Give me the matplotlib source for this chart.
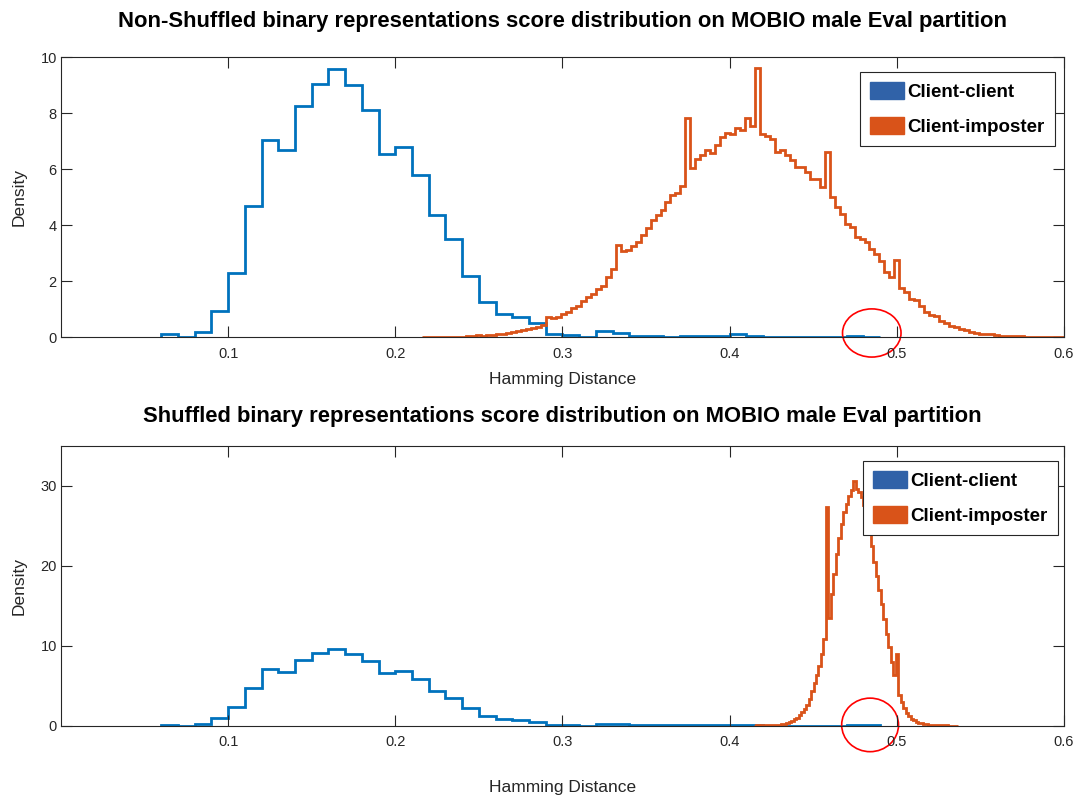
import matplotlib.pyplot as plt
import numpy as np
from matplotlib.patches import Ellipse, Patch

plt.rcParams['font.family'] = ['Liberation Sans', 'DejaVu Sans']

# client-client scores (same in both panels), bins of 0.01 from 0.06
cc_start = 0.06
cc_width = 0.01
cc_density = [0.11, 0.01, 0.21, 0.96, 2.31, 4.70, 7.06, 6.69, 8.26, 9.06,
              9.58, 9.02, 8.14, 6.56, 6.81, 5.80, 4.37, 3.51, 2.19, 1.25,
              0.83, 0.74, 0.52, 0.12, 0.08, 0.02, 0.23, 0.17, 0.05, 0.07,
              0.03, 0.05, 0.05, 0.06, 0.12, 0.06, 0.02, 0.02, 0.02, 0.02,
              0.02, 0.05, 0.03]

# client-imposter, non-shuffled, bins of 1/336
ci_start = 72.5 / 336
ci_width = 1 / 336
ci_density = [0.01, 0.01, 0.01, 0.01, 0.02, 0.02, 0.02, 0.03, 0.03, 0.04,
              0.05, 0.09, 0.07, 0.08, 0.10, 0.12, 0.14, 0.16, 0.19, 0.22,
              0.25, 0.29, 0.33, 0.37, 0.44, 0.72, 0.70, 0.74, 0.85, 0.92,
              1.04, 1.12, 1.30, 1.45, 1.55, 1.72, 1.82, 2.15, 2.43, 3.30,
              3.07, 3.13, 3.25, 3.42, 3.66, 3.90, 4.20, 4.38, 4.55, 4.85,
              5.09, 5.15, 5.41, 7.83, 6.04, 6.36, 6.50, 6.71, 6.57, 6.87,
              7.17, 7.30, 7.26, 7.47, 7.40, 7.82, 7.55, 9.61, 7.26, 7.19,
              7.10, 6.63, 6.69, 6.50, 6.33, 6.09, 6.09, 5.90, 5.66, 5.66,
              5.36, 6.64, 5.00, 4.66, 4.42, 4.06, 3.94, 3.58, 3.52, 3.40,
              3.16, 2.98, 2.74, 2.35, 2.17, 2.77, 1.76, 1.64, 1.37, 1.33,
              1.12, 0.92, 0.80, 0.76, 0.60, 0.50, 0.42, 0.36, 0.31, 0.28,
              0.20, 0.16, 0.14, 0.12, 0.11, 0.09, 0.07, 0.06, 0.05, 0.05,
              0.04, 0.03, 0.03, 0.03, 0.02, 0.02, 0.02, 0.01, 0.01, 0.01]

# client-imposter, shuffled, bins of 1/672
sh_start = 278.5 / 672
sh_width = 1 / 672
sh_density = [0.02, 0.03, 0.02, 0.03, 0.04, 0.05, 0.06, 0.07, 0.09, 0.11,
              0.15, 0.20, 0.26, 0.35, 0.48, 0.62, 0.80, 1.0, 1.35, 1.7,
              2.1, 2.6, 3.3, 4.3, 5.3, 6.3, 7.5, 9.0, 10.8, 27.4,
              13.5, 16.5, 19.0, 21.5, 23.5, 25.3, 26.8, 27.8, 28.7, 29.5,
              30.6, 29.6, 29.3, 28.6, 27.6, 26.3, 24.5, 22.5, 20.5, 18.7,
              17.0, 15.2, 13.3, 11.5, 9.8, 8.0, 6.3, 9.0, 3.8, 3.0,
              2.2, 1.6, 1.2, 0.9, 0.7, 0.5, 0.4, 0.3, 0.25, 0.2,
              0.15, 0.12, 0.1, 0.08, 0.06, 0.05, 0.04, 0.03, 0.02, 0.02,
              0.01, 0.01]

titles = ['Non-Shuffled binary representations score distribution on MOBIO male Eval partition',
          'Shuffled binary representations score distribution on MOBIO male Eval partition']
ylims = [10, 35]
yticks = [[0, 2, 4, 6, 8, 10], [0, 10, 20, 30]]
xticks = [0.1, 0.2, 0.3, 0.4, 0.5, 0.6]
# red circles (centre x, centre y, width, height) in data units
circles = [(0.485, 0.16, 0.035, 1.72), (0.484, 0.1, 0.034, 6.7)]

blue = '#0072BD'
orange = '#D95319'
axc = '#262626'

fig = plt.figure(figsize=(10.81, 8.01), dpi=100)
ax1 = fig.add_axes([0.0564, 0.5787, 0.9279, 0.3496])
ax2 = fig.add_axes([0.0564, 0.0940, 0.9279, 0.3492])

cc_edges = cc_start + cc_width * np.arange(len(cc_density) + 1)
ci_edges = ci_start + ci_width * np.arange(len(ci_density) + 1)
sh_edges = sh_start + sh_width * np.arange(len(sh_density) + 1)

title_pads = [22, 17]
leg_anchor = [(0.991, 0.948), (0.994, 0.946)]

for k, ax in enumerate([ax1, ax2]):
    ax.stairs(cc_density, cc_edges, color=blue, lw=2, baseline=0)
    if k == 0:
        ax.stairs(ci_density, ci_edges, color=orange, lw=2, baseline=0)
    else:
        ax.stairs(sh_density, sh_edges, color=orange, lw=2, baseline=0)
    ax.set_xlim(0, 0.6)
    ax.set_ylim(0, ylims[k])
    ax.set_xticks(xticks)
    ax.set_xticklabels(['0.1', '0.2', '0.3', '0.4', '0.5', '0.6'])
    ax.set_yticks(yticks[k])
    ax.tick_params(direction='in', length=8, width=0.8, top=True, right=True,
                   colors=axc, labelsize=10.5)
    ax.tick_params(axis='x', pad=7)
    ax.tick_params(axis='y', pad=3)
    for s in ax.spines.values():
        s.set_color(axc)
        s.set_linewidth(0.8)
    ax.set_ylabel('Density', fontsize=12.5, color=axc, labelpad=10)
    ax.set_title(titles[k], fontsize=15.8, fontweight='bold', pad=title_pads[k])
    cx, cy, cw, ch = circles[k]
    ax.add_patch(Ellipse((cx, cy), cw, ch, fill=False, ec='red', lw=1.2, clip_on=False))
    handles = [Patch(facecolor='#3062A8', edgecolor='#3062A8', label='Client-client'),
               Patch(facecolor=orange, edgecolor=orange, label='Client-imposter')]
    leg = ax.legend(handles=handles, loc='upper right', bbox_to_anchor=leg_anchor[k],
                    prop={'weight': 'bold', 'size': 13.5}, fancybox=False,
                    framealpha=1, handlelength=1.8, handleheight=1.0,
                    handletextpad=0.2, borderpad=0.55, labelspacing=0.85,
                    borderaxespad=0)
    leg.get_frame().set_edgecolor(axc)
    leg.get_frame().set_linewidth(0.8)

ax1.set_xlabel('Hamming Distance', fontsize=12.5, color=axc, labelpad=8)
ax2.set_xlabel('Hamming Distance', fontsize=12.5, color=axc, labelpad=22)

fig.savefig('out.png', dpi=100)
